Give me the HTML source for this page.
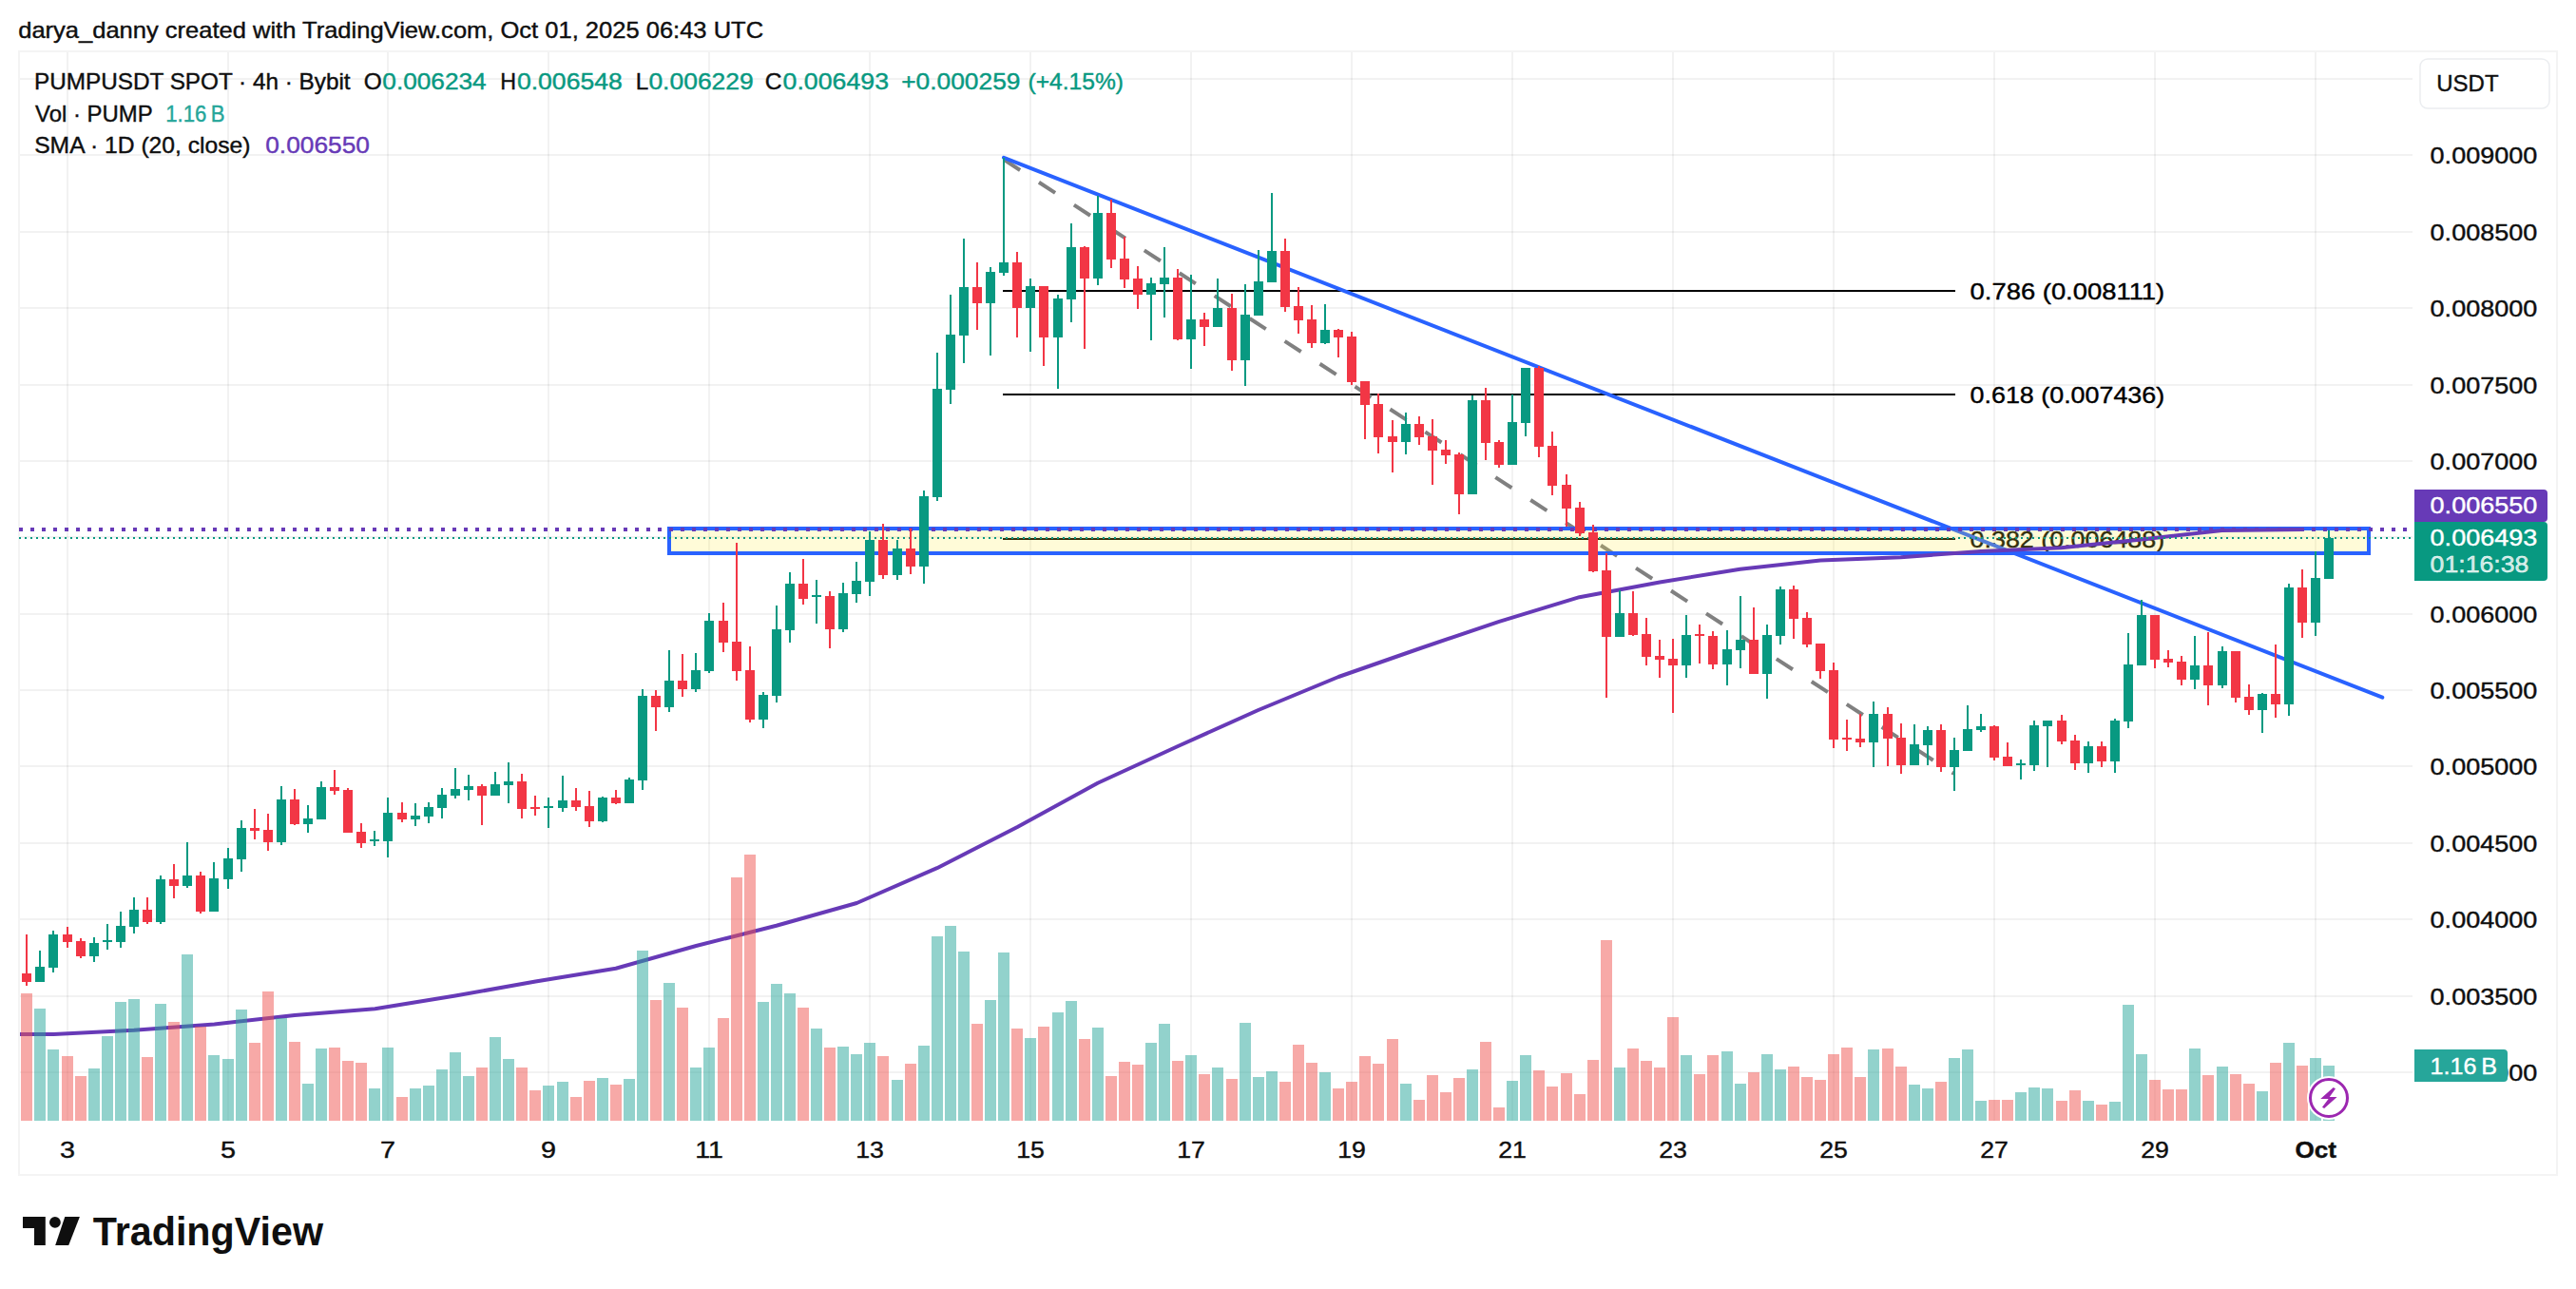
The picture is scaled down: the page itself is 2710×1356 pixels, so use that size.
<!DOCTYPE html><html><head><meta charset="utf-8"><title>PUMPUSDT chart</title>
<style>html,body{margin:0;padding:0;background:#fff;}body{width:2710px;height:1356px;overflow:hidden;}svg{display:block;}text{font-family:"Liberation Sans", Arial, sans-serif;}</style></head><body>
<svg width="2710" height="1356" viewBox="0 0 2710 1356">
<rect width="2710" height="1356" fill="#fff"/>
<text x="19.2" y="39.8" font-size="24" fill="#0f0f0f" stroke="#0f0f0f" stroke-width="0.4" textLength="783.9" lengthAdjust="spacingAndGlyphs" >darya_danny created with TradingView.com, Oct 01, 2025 06:43 UTC</text>
<rect x="20" y="54" width="2670" height="1182" fill="none" stroke="#f4f4f4" stroke-width="2"/>
<g fill="#000" fill-opacity="0.052" shape-rendering="crispEdges">
<rect x="21" y="82" width="2517" height="2"/>
<rect x="21" y="162" width="2517" height="2"/>
<rect x="21" y="243" width="2517" height="2"/>
<rect x="21" y="323" width="2517" height="2"/>
<rect x="21" y="404" width="2517" height="2"/>
<rect x="21" y="484" width="2517" height="2"/>
<rect x="21" y="564" width="2517" height="2"/>
<rect x="21" y="645" width="2517" height="2"/>
<rect x="21" y="725" width="2517" height="2"/>
<rect x="21" y="805" width="2517" height="2"/>
<rect x="21" y="886" width="2517" height="2"/>
<rect x="21" y="966" width="2517" height="2"/>
<rect x="21" y="1047" width="2517" height="2"/>
<rect x="21" y="1127" width="2517" height="2"/>
<rect x="70" y="55" width="2" height="1124"/>
<rect x="239" y="55" width="2" height="1124"/>
<rect x="407" y="55" width="2" height="1124"/>
<rect x="576" y="55" width="2" height="1124"/>
<rect x="745" y="55" width="2" height="1124"/>
<rect x="914" y="55" width="2" height="1124"/>
<rect x="1083" y="55" width="2" height="1124"/>
<rect x="1252" y="55" width="2" height="1124"/>
<rect x="1421" y="55" width="2" height="1124"/>
<rect x="1590" y="55" width="2" height="1124"/>
<rect x="1759" y="55" width="2" height="1124"/>
<rect x="1928" y="55" width="2" height="1124"/>
<rect x="2097" y="55" width="2" height="1124"/>
<rect x="2266" y="55" width="2" height="1124"/>
<rect x="2435" y="55" width="2" height="1124"/>
</g>
<rect x="1055" y="305" width="1002" height="2" fill="#000" shape-rendering="crispEdges"/>
<text x="2072.6" y="314.6" font-size="24" fill="#000" stroke="#000" stroke-width="0.4" textLength="204.6" lengthAdjust="spacingAndGlyphs" >0.786 (0.008111)</text>
<rect x="1055" y="414" width="1002" height="2" fill="#000" shape-rendering="crispEdges"/>
<text x="2072.6" y="423.6" font-size="24" fill="#000" stroke="#000" stroke-width="0.4" textLength="204.6" lengthAdjust="spacingAndGlyphs" >0.618 (0.007436)</text>
<rect x="1055" y="566" width="1002" height="2" fill="#000" shape-rendering="crispEdges"/>
<text x="2072.6" y="575.6" font-size="24" fill="#000" stroke="#000" stroke-width="0.4" textLength="204.6" lengthAdjust="spacingAndGlyphs" >0.382 (0.006488)</text>
<line x1="1056" y1="167.9" x2="2055.5" y2="813.8" stroke="#808080" stroke-width="4" stroke-dasharray="20.4 23.59"/>
<line x1="1056" y1="165.8" x2="2506.3" y2="733.7" stroke="#2962ff" stroke-width="4" stroke-linecap="round"/>
<rect x="704" y="556" width="1788" height="26" fill="rgba(255,235,59,0.2)" stroke="#2962ff" stroke-width="4"/>
<polyline points="21.0,1088.0 56.5,1088.0 141.0,1083.8 225.5,1077.5 310.0,1068.0 394.5,1061.2 479.0,1047.5 563.4,1032.5 647.9,1018.8 732.4,995.0 816.8,973.8 901.3,950.0 985.8,913.2 1070.3,870.0 1154.8,823.8 1239.2,785.0 1323.7,747.0 1408.2,712.0 1492.7,682.5 1577.2,653.8 1661.6,628.2 1746.1,612.5 1830.6,598.8 1915.1,589.5 1999.6,586.2 2084.0,580.0 2168.5,576.2 2253.0,567.5 2337.5,558.0 2422.0,557.0" fill="none" stroke="#673ab7" stroke-width="4" stroke-linejoin="round" stroke-linecap="butt"/>
<line x1="20" y1="557" x2="2538" y2="557" stroke="#673ab7" stroke-width="4" stroke-dasharray="4 8"/>
<line x1="20" y1="566" x2="2538" y2="566" stroke="#089981" stroke-width="2" stroke-dasharray="2 4"/>
<g shape-rendering="crispEdges">
<rect x="22" y="1045" width="12" height="134" fill="#ef5350" fill-opacity="0.5"/>
<rect x="36" y="1061" width="12" height="118" fill="#26a69a" fill-opacity="0.5"/>
<rect x="50" y="1104" width="12" height="75" fill="#26a69a" fill-opacity="0.5"/>
<rect x="65" y="1111" width="12" height="68" fill="#ef5350" fill-opacity="0.5"/>
<rect x="79" y="1132" width="12" height="47" fill="#ef5350" fill-opacity="0.5"/>
<rect x="93" y="1124" width="12" height="55" fill="#26a69a" fill-opacity="0.5"/>
<rect x="107" y="1090" width="12" height="89" fill="#26a69a" fill-opacity="0.5"/>
<rect x="121" y="1054" width="12" height="125" fill="#26a69a" fill-opacity="0.5"/>
<rect x="135" y="1051" width="12" height="128" fill="#26a69a" fill-opacity="0.5"/>
<rect x="149" y="1112" width="12" height="67" fill="#ef5350" fill-opacity="0.5"/>
<rect x="163" y="1056" width="12" height="123" fill="#26a69a" fill-opacity="0.5"/>
<rect x="177" y="1075" width="12" height="104" fill="#ef5350" fill-opacity="0.5"/>
<rect x="191" y="1004" width="12" height="175" fill="#26a69a" fill-opacity="0.5"/>
<rect x="205" y="1080" width="12" height="99" fill="#ef5350" fill-opacity="0.5"/>
<rect x="219" y="1110" width="12" height="69" fill="#26a69a" fill-opacity="0.5"/>
<rect x="234" y="1114" width="12" height="65" fill="#26a69a" fill-opacity="0.5"/>
<rect x="248" y="1062" width="12" height="117" fill="#26a69a" fill-opacity="0.5"/>
<rect x="262" y="1097" width="12" height="82" fill="#ef5350" fill-opacity="0.5"/>
<rect x="276" y="1043" width="12" height="136" fill="#ef5350" fill-opacity="0.5"/>
<rect x="290" y="1071" width="12" height="108" fill="#26a69a" fill-opacity="0.5"/>
<rect x="304" y="1096" width="12" height="83" fill="#ef5350" fill-opacity="0.5"/>
<rect x="318" y="1140" width="12" height="39" fill="#26a69a" fill-opacity="0.5"/>
<rect x="332" y="1103" width="12" height="76" fill="#26a69a" fill-opacity="0.5"/>
<rect x="346" y="1102" width="12" height="77" fill="#ef5350" fill-opacity="0.5"/>
<rect x="360" y="1116" width="12" height="63" fill="#ef5350" fill-opacity="0.5"/>
<rect x="374" y="1118" width="12" height="61" fill="#ef5350" fill-opacity="0.5"/>
<rect x="388" y="1145" width="12" height="34" fill="#26a69a" fill-opacity="0.5"/>
<rect x="402" y="1102" width="12" height="77" fill="#26a69a" fill-opacity="0.5"/>
<rect x="417" y="1154" width="12" height="25" fill="#ef5350" fill-opacity="0.5"/>
<rect x="431" y="1145" width="12" height="34" fill="#26a69a" fill-opacity="0.5"/>
<rect x="445" y="1142" width="12" height="37" fill="#26a69a" fill-opacity="0.5"/>
<rect x="459" y="1125" width="12" height="54" fill="#26a69a" fill-opacity="0.5"/>
<rect x="473" y="1107" width="12" height="72" fill="#26a69a" fill-opacity="0.5"/>
<rect x="487" y="1132" width="12" height="47" fill="#26a69a" fill-opacity="0.5"/>
<rect x="501" y="1123" width="12" height="56" fill="#ef5350" fill-opacity="0.5"/>
<rect x="515" y="1091" width="12" height="88" fill="#26a69a" fill-opacity="0.5"/>
<rect x="529" y="1114" width="12" height="65" fill="#26a69a" fill-opacity="0.5"/>
<rect x="543" y="1123" width="12" height="56" fill="#ef5350" fill-opacity="0.5"/>
<rect x="557" y="1147" width="12" height="32" fill="#ef5350" fill-opacity="0.5"/>
<rect x="571" y="1142" width="12" height="37" fill="#26a69a" fill-opacity="0.5"/>
<rect x="586" y="1138" width="12" height="41" fill="#26a69a" fill-opacity="0.5"/>
<rect x="600" y="1154" width="12" height="25" fill="#ef5350" fill-opacity="0.5"/>
<rect x="614" y="1137" width="12" height="42" fill="#ef5350" fill-opacity="0.5"/>
<rect x="628" y="1134" width="12" height="45" fill="#26a69a" fill-opacity="0.5"/>
<rect x="642" y="1141" width="12" height="38" fill="#ef5350" fill-opacity="0.5"/>
<rect x="656" y="1135" width="12" height="44" fill="#26a69a" fill-opacity="0.5"/>
<rect x="670" y="1000" width="12" height="179" fill="#26a69a" fill-opacity="0.5"/>
<rect x="684" y="1052" width="12" height="127" fill="#ef5350" fill-opacity="0.5"/>
<rect x="698" y="1034" width="12" height="145" fill="#26a69a" fill-opacity="0.5"/>
<rect x="712" y="1060" width="12" height="119" fill="#ef5350" fill-opacity="0.5"/>
<rect x="726" y="1123" width="12" height="56" fill="#26a69a" fill-opacity="0.5"/>
<rect x="740" y="1102" width="12" height="77" fill="#26a69a" fill-opacity="0.5"/>
<rect x="755" y="1071" width="12" height="108" fill="#ef5350" fill-opacity="0.5"/>
<rect x="769" y="923" width="12" height="256" fill="#ef5350" fill-opacity="0.5"/>
<rect x="783" y="899" width="12" height="280" fill="#ef5350" fill-opacity="0.5"/>
<rect x="797" y="1054" width="12" height="125" fill="#26a69a" fill-opacity="0.5"/>
<rect x="811" y="1035" width="12" height="144" fill="#26a69a" fill-opacity="0.5"/>
<rect x="825" y="1045" width="12" height="134" fill="#26a69a" fill-opacity="0.5"/>
<rect x="839" y="1060" width="12" height="119" fill="#ef5350" fill-opacity="0.5"/>
<rect x="853" y="1082" width="12" height="97" fill="#26a69a" fill-opacity="0.5"/>
<rect x="867" y="1102" width="12" height="77" fill="#ef5350" fill-opacity="0.5"/>
<rect x="881" y="1101" width="12" height="78" fill="#26a69a" fill-opacity="0.5"/>
<rect x="895" y="1109" width="12" height="70" fill="#26a69a" fill-opacity="0.5"/>
<rect x="909" y="1097" width="12" height="82" fill="#26a69a" fill-opacity="0.5"/>
<rect x="923" y="1111" width="12" height="68" fill="#ef5350" fill-opacity="0.5"/>
<rect x="938" y="1136" width="12" height="43" fill="#26a69a" fill-opacity="0.5"/>
<rect x="952" y="1119" width="12" height="60" fill="#ef5350" fill-opacity="0.5"/>
<rect x="966" y="1100" width="12" height="79" fill="#26a69a" fill-opacity="0.5"/>
<rect x="980" y="985" width="12" height="194" fill="#26a69a" fill-opacity="0.5"/>
<rect x="994" y="974" width="12" height="205" fill="#26a69a" fill-opacity="0.5"/>
<rect x="1008" y="1001" width="12" height="178" fill="#26a69a" fill-opacity="0.5"/>
<rect x="1022" y="1077" width="12" height="102" fill="#ef5350" fill-opacity="0.5"/>
<rect x="1036" y="1052" width="12" height="127" fill="#26a69a" fill-opacity="0.5"/>
<rect x="1050" y="1002" width="12" height="177" fill="#26a69a" fill-opacity="0.5"/>
<rect x="1064" y="1082" width="12" height="97" fill="#ef5350" fill-opacity="0.5"/>
<rect x="1078" y="1092" width="12" height="87" fill="#26a69a" fill-opacity="0.5"/>
<rect x="1092" y="1080" width="12" height="99" fill="#ef5350" fill-opacity="0.5"/>
<rect x="1107" y="1065" width="12" height="114" fill="#26a69a" fill-opacity="0.5"/>
<rect x="1121" y="1053" width="12" height="126" fill="#26a69a" fill-opacity="0.5"/>
<rect x="1135" y="1093" width="12" height="86" fill="#ef5350" fill-opacity="0.5"/>
<rect x="1149" y="1081" width="12" height="98" fill="#26a69a" fill-opacity="0.5"/>
<rect x="1163" y="1132" width="12" height="47" fill="#ef5350" fill-opacity="0.5"/>
<rect x="1177" y="1117" width="12" height="62" fill="#ef5350" fill-opacity="0.5"/>
<rect x="1191" y="1120" width="12" height="59" fill="#ef5350" fill-opacity="0.5"/>
<rect x="1205" y="1097" width="12" height="82" fill="#26a69a" fill-opacity="0.5"/>
<rect x="1219" y="1077" width="12" height="102" fill="#26a69a" fill-opacity="0.5"/>
<rect x="1233" y="1116" width="12" height="63" fill="#ef5350" fill-opacity="0.5"/>
<rect x="1247" y="1110" width="12" height="69" fill="#26a69a" fill-opacity="0.5"/>
<rect x="1261" y="1130" width="12" height="49" fill="#ef5350" fill-opacity="0.5"/>
<rect x="1275" y="1123" width="12" height="56" fill="#26a69a" fill-opacity="0.5"/>
<rect x="1290" y="1135" width="12" height="44" fill="#ef5350" fill-opacity="0.5"/>
<rect x="1304" y="1076" width="12" height="103" fill="#26a69a" fill-opacity="0.5"/>
<rect x="1318" y="1133" width="12" height="46" fill="#26a69a" fill-opacity="0.5"/>
<rect x="1332" y="1127" width="12" height="52" fill="#26a69a" fill-opacity="0.5"/>
<rect x="1346" y="1138" width="12" height="41" fill="#ef5350" fill-opacity="0.5"/>
<rect x="1360" y="1099" width="12" height="80" fill="#ef5350" fill-opacity="0.5"/>
<rect x="1374" y="1118" width="12" height="61" fill="#ef5350" fill-opacity="0.5"/>
<rect x="1388" y="1128" width="12" height="51" fill="#26a69a" fill-opacity="0.5"/>
<rect x="1402" y="1145" width="12" height="34" fill="#ef5350" fill-opacity="0.5"/>
<rect x="1416" y="1138" width="12" height="41" fill="#ef5350" fill-opacity="0.5"/>
<rect x="1430" y="1111" width="12" height="68" fill="#ef5350" fill-opacity="0.5"/>
<rect x="1444" y="1119" width="12" height="60" fill="#ef5350" fill-opacity="0.5"/>
<rect x="1459" y="1093" width="12" height="86" fill="#ef5350" fill-opacity="0.5"/>
<rect x="1473" y="1140" width="12" height="39" fill="#26a69a" fill-opacity="0.5"/>
<rect x="1487" y="1157" width="12" height="22" fill="#ef5350" fill-opacity="0.5"/>
<rect x="1501" y="1131" width="12" height="48" fill="#ef5350" fill-opacity="0.5"/>
<rect x="1515" y="1149" width="12" height="30" fill="#ef5350" fill-opacity="0.5"/>
<rect x="1529" y="1134" width="12" height="45" fill="#ef5350" fill-opacity="0.5"/>
<rect x="1543" y="1125" width="12" height="54" fill="#26a69a" fill-opacity="0.5"/>
<rect x="1557" y="1096" width="12" height="83" fill="#ef5350" fill-opacity="0.5"/>
<rect x="1571" y="1165" width="12" height="14" fill="#ef5350" fill-opacity="0.5"/>
<rect x="1585" y="1137" width="12" height="42" fill="#26a69a" fill-opacity="0.5"/>
<rect x="1599" y="1110" width="12" height="69" fill="#26a69a" fill-opacity="0.5"/>
<rect x="1613" y="1126" width="12" height="53" fill="#ef5350" fill-opacity="0.5"/>
<rect x="1627" y="1143" width="12" height="36" fill="#ef5350" fill-opacity="0.5"/>
<rect x="1642" y="1129" width="12" height="50" fill="#ef5350" fill-opacity="0.5"/>
<rect x="1656" y="1151" width="12" height="28" fill="#ef5350" fill-opacity="0.5"/>
<rect x="1670" y="1115" width="12" height="64" fill="#ef5350" fill-opacity="0.5"/>
<rect x="1684" y="989" width="12" height="190" fill="#ef5350" fill-opacity="0.5"/>
<rect x="1698" y="1123" width="12" height="56" fill="#26a69a" fill-opacity="0.5"/>
<rect x="1712" y="1103" width="12" height="76" fill="#ef5350" fill-opacity="0.5"/>
<rect x="1726" y="1116" width="12" height="63" fill="#ef5350" fill-opacity="0.5"/>
<rect x="1740" y="1123" width="12" height="56" fill="#ef5350" fill-opacity="0.5"/>
<rect x="1754" y="1070" width="12" height="109" fill="#ef5350" fill-opacity="0.5"/>
<rect x="1768" y="1110" width="12" height="69" fill="#26a69a" fill-opacity="0.5"/>
<rect x="1782" y="1130" width="12" height="49" fill="#ef5350" fill-opacity="0.5"/>
<rect x="1796" y="1110" width="12" height="69" fill="#ef5350" fill-opacity="0.5"/>
<rect x="1811" y="1106" width="12" height="73" fill="#26a69a" fill-opacity="0.5"/>
<rect x="1825" y="1140" width="12" height="39" fill="#26a69a" fill-opacity="0.5"/>
<rect x="1839" y="1128" width="12" height="51" fill="#ef5350" fill-opacity="0.5"/>
<rect x="1853" y="1109" width="12" height="70" fill="#26a69a" fill-opacity="0.5"/>
<rect x="1867" y="1125" width="12" height="54" fill="#26a69a" fill-opacity="0.5"/>
<rect x="1881" y="1122" width="12" height="57" fill="#ef5350" fill-opacity="0.5"/>
<rect x="1895" y="1133" width="12" height="46" fill="#ef5350" fill-opacity="0.5"/>
<rect x="1909" y="1136" width="12" height="43" fill="#ef5350" fill-opacity="0.5"/>
<rect x="1923" y="1109" width="12" height="70" fill="#ef5350" fill-opacity="0.5"/>
<rect x="1937" y="1102" width="12" height="77" fill="#ef5350" fill-opacity="0.5"/>
<rect x="1951" y="1133" width="12" height="46" fill="#ef5350" fill-opacity="0.5"/>
<rect x="1965" y="1104" width="12" height="75" fill="#26a69a" fill-opacity="0.5"/>
<rect x="1980" y="1103" width="12" height="76" fill="#ef5350" fill-opacity="0.5"/>
<rect x="1994" y="1122" width="12" height="57" fill="#ef5350" fill-opacity="0.5"/>
<rect x="2008" y="1141" width="12" height="38" fill="#26a69a" fill-opacity="0.5"/>
<rect x="2022" y="1145" width="12" height="34" fill="#26a69a" fill-opacity="0.5"/>
<rect x="2036" y="1138" width="12" height="41" fill="#ef5350" fill-opacity="0.5"/>
<rect x="2050" y="1113" width="12" height="66" fill="#26a69a" fill-opacity="0.5"/>
<rect x="2064" y="1104" width="12" height="75" fill="#26a69a" fill-opacity="0.5"/>
<rect x="2078" y="1158" width="12" height="21" fill="#26a69a" fill-opacity="0.5"/>
<rect x="2092" y="1157" width="12" height="22" fill="#ef5350" fill-opacity="0.5"/>
<rect x="2106" y="1157" width="12" height="22" fill="#ef5350" fill-opacity="0.5"/>
<rect x="2120" y="1149" width="12" height="30" fill="#26a69a" fill-opacity="0.5"/>
<rect x="2134" y="1144" width="12" height="35" fill="#26a69a" fill-opacity="0.5"/>
<rect x="2148" y="1145" width="12" height="34" fill="#26a69a" fill-opacity="0.5"/>
<rect x="2163" y="1158" width="12" height="21" fill="#ef5350" fill-opacity="0.5"/>
<rect x="2177" y="1147" width="12" height="32" fill="#ef5350" fill-opacity="0.5"/>
<rect x="2191" y="1158" width="12" height="21" fill="#26a69a" fill-opacity="0.5"/>
<rect x="2205" y="1162" width="12" height="17" fill="#ef5350" fill-opacity="0.5"/>
<rect x="2219" y="1159" width="12" height="20" fill="#26a69a" fill-opacity="0.5"/>
<rect x="2233" y="1057" width="12" height="122" fill="#26a69a" fill-opacity="0.5"/>
<rect x="2247" y="1109" width="12" height="70" fill="#26a69a" fill-opacity="0.5"/>
<rect x="2261" y="1136" width="12" height="43" fill="#ef5350" fill-opacity="0.5"/>
<rect x="2275" y="1146" width="12" height="33" fill="#ef5350" fill-opacity="0.5"/>
<rect x="2289" y="1146" width="12" height="33" fill="#ef5350" fill-opacity="0.5"/>
<rect x="2303" y="1103" width="12" height="76" fill="#26a69a" fill-opacity="0.5"/>
<rect x="2317" y="1131" width="12" height="48" fill="#ef5350" fill-opacity="0.5"/>
<rect x="2332" y="1122" width="12" height="57" fill="#26a69a" fill-opacity="0.5"/>
<rect x="2346" y="1130" width="12" height="49" fill="#ef5350" fill-opacity="0.5"/>
<rect x="2360" y="1140" width="12" height="39" fill="#ef5350" fill-opacity="0.5"/>
<rect x="2374" y="1148" width="12" height="31" fill="#26a69a" fill-opacity="0.5"/>
<rect x="2388" y="1118" width="12" height="61" fill="#ef5350" fill-opacity="0.5"/>
<rect x="2402" y="1097" width="12" height="82" fill="#26a69a" fill-opacity="0.5"/>
<rect x="2416" y="1121" width="12" height="58" fill="#ef5350" fill-opacity="0.5"/>
<rect x="2430" y="1113" width="12" height="66" fill="#26a69a" fill-opacity="0.5"/>
<rect x="2444" y="1121" width="12" height="58" fill="#26a69a" fill-opacity="0.5"/>
</g>
<g shape-rendering="crispEdges">
<rect x="27" y="983" width="2" height="54" fill="#f23645"/>
<rect x="23" y="1024" width="10" height="9" fill="#f23645"/>
<rect x="41" y="1000" width="2" height="33" fill="#089981"/>
<rect x="37" y="1017" width="10" height="16" fill="#089981"/>
<rect x="55" y="979" width="2" height="44" fill="#089981"/>
<rect x="51" y="983" width="10" height="35" fill="#089981"/>
<rect x="70" y="975" width="2" height="22" fill="#f23645"/>
<rect x="66" y="983" width="10" height="8" fill="#f23645"/>
<rect x="84" y="987" width="2" height="21" fill="#f23645"/>
<rect x="80" y="990" width="10" height="16" fill="#f23645"/>
<rect x="98" y="986" width="2" height="26" fill="#089981"/>
<rect x="94" y="992" width="10" height="14" fill="#089981"/>
<rect x="112" y="972" width="2" height="27" fill="#089981"/>
<rect x="108" y="989" width="10" height="2" fill="#089981"/>
<rect x="126" y="959" width="2" height="38" fill="#089981"/>
<rect x="122" y="974" width="10" height="17" fill="#089981"/>
<rect x="140" y="944" width="2" height="38" fill="#089981"/>
<rect x="136" y="957" width="10" height="18" fill="#089981"/>
<rect x="154" y="944" width="2" height="28" fill="#f23645"/>
<rect x="150" y="957" width="10" height="13" fill="#f23645"/>
<rect x="168" y="921" width="2" height="51" fill="#089981"/>
<rect x="164" y="925" width="10" height="45" fill="#089981"/>
<rect x="182" y="909" width="2" height="36" fill="#f23645"/>
<rect x="178" y="925" width="10" height="7" fill="#f23645"/>
<rect x="196" y="886" width="2" height="48" fill="#089981"/>
<rect x="192" y="921" width="10" height="11" fill="#089981"/>
<rect x="210" y="917" width="2" height="44" fill="#f23645"/>
<rect x="206" y="921" width="10" height="38" fill="#f23645"/>
<rect x="224" y="907" width="2" height="52" fill="#089981"/>
<rect x="220" y="924" width="10" height="35" fill="#089981"/>
<rect x="239" y="892" width="2" height="43" fill="#089981"/>
<rect x="235" y="903" width="10" height="22" fill="#089981"/>
<rect x="253" y="863" width="2" height="54" fill="#089981"/>
<rect x="249" y="871" width="10" height="33" fill="#089981"/>
<rect x="267" y="851" width="2" height="32" fill="#f23645"/>
<rect x="263" y="871" width="10" height="3" fill="#f23645"/>
<rect x="281" y="856" width="2" height="39" fill="#f23645"/>
<rect x="277" y="873" width="10" height="13" fill="#f23645"/>
<rect x="295" y="827" width="2" height="62" fill="#089981"/>
<rect x="291" y="841" width="10" height="45" fill="#089981"/>
<rect x="309" y="830" width="2" height="38" fill="#f23645"/>
<rect x="305" y="841" width="10" height="26" fill="#f23645"/>
<rect x="323" y="847" width="2" height="29" fill="#089981"/>
<rect x="319" y="861" width="10" height="6" fill="#089981"/>
<rect x="337" y="822" width="2" height="40" fill="#089981"/>
<rect x="333" y="828" width="10" height="34" fill="#089981"/>
<rect x="351" y="810" width="2" height="26" fill="#f23645"/>
<rect x="347" y="828" width="10" height="4" fill="#f23645"/>
<rect x="365" y="829" width="2" height="47" fill="#f23645"/>
<rect x="361" y="831" width="10" height="45" fill="#f23645"/>
<rect x="379" y="866" width="2" height="26" fill="#f23645"/>
<rect x="375" y="875" width="10" height="12" fill="#f23645"/>
<rect x="393" y="874" width="2" height="16" fill="#089981"/>
<rect x="389" y="883" width="10" height="2" fill="#089981"/>
<rect x="407" y="839" width="2" height="63" fill="#089981"/>
<rect x="403" y="855" width="10" height="30" fill="#089981"/>
<rect x="422" y="844" width="2" height="21" fill="#f23645"/>
<rect x="418" y="855" width="10" height="7" fill="#f23645"/>
<rect x="436" y="845" width="2" height="24" fill="#089981"/>
<rect x="432" y="858" width="10" height="4" fill="#089981"/>
<rect x="450" y="844" width="2" height="22" fill="#089981"/>
<rect x="446" y="849" width="10" height="10" fill="#089981"/>
<rect x="464" y="829" width="2" height="32" fill="#089981"/>
<rect x="460" y="836" width="10" height="14" fill="#089981"/>
<rect x="478" y="808" width="2" height="32" fill="#089981"/>
<rect x="474" y="830" width="10" height="7" fill="#089981"/>
<rect x="492" y="815" width="2" height="27" fill="#089981"/>
<rect x="488" y="827" width="10" height="4" fill="#089981"/>
<rect x="506" y="825" width="2" height="43" fill="#f23645"/>
<rect x="502" y="827" width="10" height="10" fill="#f23645"/>
<rect x="520" y="812" width="2" height="25" fill="#089981"/>
<rect x="516" y="825" width="10" height="12" fill="#089981"/>
<rect x="534" y="802" width="2" height="43" fill="#089981"/>
<rect x="530" y="822" width="10" height="4" fill="#089981"/>
<rect x="548" y="814" width="2" height="47" fill="#f23645"/>
<rect x="544" y="822" width="10" height="29" fill="#f23645"/>
<rect x="562" y="837" width="2" height="21" fill="#f23645"/>
<rect x="558" y="849" width="10" height="2" fill="#f23645"/>
<rect x="576" y="839" width="2" height="32" fill="#089981"/>
<rect x="572" y="848" width="10" height="2" fill="#089981"/>
<rect x="591" y="816" width="2" height="38" fill="#089981"/>
<rect x="587" y="842" width="10" height="8" fill="#089981"/>
<rect x="605" y="829" width="2" height="24" fill="#f23645"/>
<rect x="601" y="842" width="10" height="7" fill="#f23645"/>
<rect x="619" y="832" width="2" height="38" fill="#f23645"/>
<rect x="615" y="848" width="10" height="16" fill="#f23645"/>
<rect x="633" y="838" width="2" height="27" fill="#089981"/>
<rect x="629" y="839" width="10" height="25" fill="#089981"/>
<rect x="647" y="831" width="2" height="15" fill="#f23645"/>
<rect x="643" y="839" width="10" height="6" fill="#f23645"/>
<rect x="661" y="818" width="2" height="27" fill="#089981"/>
<rect x="657" y="820" width="10" height="25" fill="#089981"/>
<rect x="675" y="725" width="2" height="106" fill="#089981"/>
<rect x="671" y="732" width="10" height="89" fill="#089981"/>
<rect x="689" y="726" width="2" height="43" fill="#f23645"/>
<rect x="685" y="732" width="10" height="12" fill="#f23645"/>
<rect x="703" y="684" width="2" height="65" fill="#089981"/>
<rect x="699" y="716" width="10" height="28" fill="#089981"/>
<rect x="717" y="688" width="2" height="45" fill="#f23645"/>
<rect x="713" y="716" width="10" height="9" fill="#f23645"/>
<rect x="731" y="687" width="2" height="41" fill="#089981"/>
<rect x="727" y="705" width="10" height="20" fill="#089981"/>
<rect x="745" y="645" width="2" height="63" fill="#089981"/>
<rect x="741" y="653" width="10" height="53" fill="#089981"/>
<rect x="760" y="634" width="2" height="52" fill="#f23645"/>
<rect x="756" y="653" width="10" height="23" fill="#f23645"/>
<rect x="774" y="571" width="2" height="145" fill="#f23645"/>
<rect x="770" y="675" width="10" height="31" fill="#f23645"/>
<rect x="788" y="680" width="2" height="80" fill="#f23645"/>
<rect x="784" y="705" width="10" height="52" fill="#f23645"/>
<rect x="802" y="728" width="2" height="38" fill="#089981"/>
<rect x="798" y="731" width="10" height="26" fill="#089981"/>
<rect x="816" y="637" width="2" height="102" fill="#089981"/>
<rect x="812" y="662" width="10" height="70" fill="#089981"/>
<rect x="830" y="602" width="2" height="74" fill="#089981"/>
<rect x="826" y="614" width="10" height="49" fill="#089981"/>
<rect x="844" y="588" width="2" height="48" fill="#f23645"/>
<rect x="840" y="614" width="10" height="16" fill="#f23645"/>
<rect x="858" y="610" width="2" height="46" fill="#089981"/>
<rect x="854" y="626" width="10" height="2" fill="#089981"/>
<rect x="872" y="622" width="2" height="60" fill="#f23645"/>
<rect x="868" y="627" width="10" height="35" fill="#f23645"/>
<rect x="886" y="613" width="2" height="52" fill="#089981"/>
<rect x="882" y="624" width="10" height="38" fill="#089981"/>
<rect x="900" y="591" width="2" height="43" fill="#089981"/>
<rect x="896" y="611" width="10" height="14" fill="#089981"/>
<rect x="914" y="559" width="2" height="68" fill="#089981"/>
<rect x="910" y="568" width="10" height="44" fill="#089981"/>
<rect x="928" y="551" width="2" height="58" fill="#f23645"/>
<rect x="924" y="568" width="10" height="37" fill="#f23645"/>
<rect x="943" y="568" width="2" height="42" fill="#089981"/>
<rect x="939" y="577" width="10" height="28" fill="#089981"/>
<rect x="957" y="556" width="2" height="48" fill="#f23645"/>
<rect x="953" y="577" width="10" height="19" fill="#f23645"/>
<rect x="971" y="516" width="2" height="98" fill="#089981"/>
<rect x="967" y="522" width="10" height="74" fill="#089981"/>
<rect x="985" y="371" width="2" height="156" fill="#089981"/>
<rect x="981" y="409" width="10" height="114" fill="#089981"/>
<rect x="999" y="310" width="2" height="115" fill="#089981"/>
<rect x="995" y="352" width="10" height="58" fill="#089981"/>
<rect x="1013" y="251" width="2" height="131" fill="#089981"/>
<rect x="1009" y="302" width="10" height="51" fill="#089981"/>
<rect x="1027" y="276" width="2" height="71" fill="#f23645"/>
<rect x="1023" y="302" width="10" height="17" fill="#f23645"/>
<rect x="1041" y="281" width="2" height="93" fill="#089981"/>
<rect x="1037" y="286" width="10" height="33" fill="#089981"/>
<rect x="1055" y="166" width="2" height="124" fill="#089981"/>
<rect x="1051" y="276" width="10" height="11" fill="#089981"/>
<rect x="1069" y="265" width="2" height="90" fill="#f23645"/>
<rect x="1065" y="276" width="10" height="48" fill="#f23645"/>
<rect x="1083" y="293" width="2" height="77" fill="#089981"/>
<rect x="1079" y="301" width="10" height="23" fill="#089981"/>
<rect x="1097" y="301" width="2" height="84" fill="#f23645"/>
<rect x="1093" y="301" width="10" height="54" fill="#f23645"/>
<rect x="1112" y="310" width="2" height="99" fill="#089981"/>
<rect x="1108" y="314" width="10" height="41" fill="#089981"/>
<rect x="1126" y="235" width="2" height="104" fill="#089981"/>
<rect x="1122" y="260" width="10" height="55" fill="#089981"/>
<rect x="1140" y="259" width="2" height="108" fill="#f23645"/>
<rect x="1136" y="260" width="10" height="33" fill="#f23645"/>
<rect x="1154" y="206" width="2" height="94" fill="#089981"/>
<rect x="1150" y="224" width="10" height="69" fill="#089981"/>
<rect x="1168" y="210" width="2" height="72" fill="#f23645"/>
<rect x="1164" y="224" width="10" height="49" fill="#f23645"/>
<rect x="1182" y="249" width="2" height="54" fill="#f23645"/>
<rect x="1178" y="272" width="10" height="22" fill="#f23645"/>
<rect x="1196" y="280" width="2" height="45" fill="#f23645"/>
<rect x="1192" y="293" width="10" height="17" fill="#f23645"/>
<rect x="1210" y="292" width="2" height="66" fill="#089981"/>
<rect x="1206" y="298" width="10" height="12" fill="#089981"/>
<rect x="1224" y="260" width="2" height="74" fill="#089981"/>
<rect x="1220" y="292" width="10" height="7" fill="#089981"/>
<rect x="1238" y="283" width="2" height="75" fill="#f23645"/>
<rect x="1234" y="292" width="10" height="65" fill="#f23645"/>
<rect x="1252" y="289" width="2" height="99" fill="#089981"/>
<rect x="1248" y="336" width="10" height="21" fill="#089981"/>
<rect x="1266" y="329" width="2" height="35" fill="#f23645"/>
<rect x="1262" y="336" width="10" height="8" fill="#f23645"/>
<rect x="1280" y="293" width="2" height="51" fill="#089981"/>
<rect x="1276" y="324" width="10" height="20" fill="#089981"/>
<rect x="1295" y="309" width="2" height="81" fill="#f23645"/>
<rect x="1291" y="324" width="10" height="55" fill="#f23645"/>
<rect x="1309" y="299" width="2" height="107" fill="#089981"/>
<rect x="1305" y="331" width="10" height="48" fill="#089981"/>
<rect x="1323" y="263" width="2" height="69" fill="#089981"/>
<rect x="1319" y="296" width="10" height="36" fill="#089981"/>
<rect x="1337" y="203" width="2" height="94" fill="#089981"/>
<rect x="1333" y="264" width="10" height="33" fill="#089981"/>
<rect x="1351" y="251" width="2" height="77" fill="#f23645"/>
<rect x="1347" y="264" width="10" height="59" fill="#f23645"/>
<rect x="1365" y="302" width="2" height="49" fill="#f23645"/>
<rect x="1361" y="322" width="10" height="15" fill="#f23645"/>
<rect x="1379" y="321" width="2" height="45" fill="#f23645"/>
<rect x="1375" y="336" width="10" height="25" fill="#f23645"/>
<rect x="1393" y="320" width="2" height="42" fill="#089981"/>
<rect x="1389" y="347" width="10" height="14" fill="#089981"/>
<rect x="1407" y="346" width="2" height="30" fill="#f23645"/>
<rect x="1403" y="347" width="10" height="8" fill="#f23645"/>
<rect x="1421" y="349" width="2" height="56" fill="#f23645"/>
<rect x="1417" y="354" width="10" height="48" fill="#f23645"/>
<rect x="1435" y="401" width="2" height="61" fill="#f23645"/>
<rect x="1431" y="401" width="10" height="25" fill="#f23645"/>
<rect x="1449" y="414" width="2" height="63" fill="#f23645"/>
<rect x="1445" y="425" width="10" height="35" fill="#f23645"/>
<rect x="1464" y="442" width="2" height="55" fill="#f23645"/>
<rect x="1460" y="459" width="10" height="6" fill="#f23645"/>
<rect x="1478" y="434" width="2" height="44" fill="#089981"/>
<rect x="1474" y="446" width="10" height="19" fill="#089981"/>
<rect x="1492" y="438" width="2" height="30" fill="#f23645"/>
<rect x="1488" y="446" width="10" height="14" fill="#f23645"/>
<rect x="1506" y="441" width="2" height="69" fill="#f23645"/>
<rect x="1502" y="459" width="10" height="15" fill="#f23645"/>
<rect x="1520" y="463" width="2" height="25" fill="#f23645"/>
<rect x="1516" y="473" width="10" height="6" fill="#f23645"/>
<rect x="1534" y="476" width="2" height="65" fill="#f23645"/>
<rect x="1530" y="478" width="10" height="42" fill="#f23645"/>
<rect x="1548" y="416" width="2" height="104" fill="#089981"/>
<rect x="1544" y="421" width="10" height="99" fill="#089981"/>
<rect x="1562" y="408" width="2" height="76" fill="#f23645"/>
<rect x="1558" y="421" width="10" height="45" fill="#f23645"/>
<rect x="1576" y="463" width="2" height="29" fill="#f23645"/>
<rect x="1572" y="465" width="10" height="24" fill="#f23645"/>
<rect x="1590" y="415" width="2" height="74" fill="#089981"/>
<rect x="1586" y="444" width="10" height="45" fill="#089981"/>
<rect x="1604" y="387" width="2" height="72" fill="#089981"/>
<rect x="1600" y="387" width="10" height="58" fill="#089981"/>
<rect x="1618" y="385" width="2" height="96" fill="#f23645"/>
<rect x="1614" y="387" width="10" height="83" fill="#f23645"/>
<rect x="1632" y="454" width="2" height="67" fill="#f23645"/>
<rect x="1628" y="469" width="10" height="42" fill="#f23645"/>
<rect x="1647" y="499" width="2" height="55" fill="#f23645"/>
<rect x="1643" y="510" width="10" height="25" fill="#f23645"/>
<rect x="1661" y="528" width="2" height="36" fill="#f23645"/>
<rect x="1657" y="534" width="10" height="27" fill="#f23645"/>
<rect x="1675" y="552" width="2" height="50" fill="#f23645"/>
<rect x="1671" y="560" width="10" height="41" fill="#f23645"/>
<rect x="1689" y="582" width="2" height="152" fill="#f23645"/>
<rect x="1685" y="600" width="10" height="70" fill="#f23645"/>
<rect x="1703" y="621" width="2" height="49" fill="#089981"/>
<rect x="1699" y="645" width="10" height="25" fill="#089981"/>
<rect x="1717" y="622" width="2" height="47" fill="#f23645"/>
<rect x="1713" y="645" width="10" height="23" fill="#f23645"/>
<rect x="1731" y="650" width="2" height="50" fill="#f23645"/>
<rect x="1727" y="667" width="10" height="24" fill="#f23645"/>
<rect x="1745" y="673" width="2" height="40" fill="#f23645"/>
<rect x="1741" y="690" width="10" height="4" fill="#f23645"/>
<rect x="1759" y="672" width="2" height="78" fill="#f23645"/>
<rect x="1755" y="693" width="10" height="7" fill="#f23645"/>
<rect x="1773" y="647" width="2" height="66" fill="#089981"/>
<rect x="1769" y="668" width="10" height="32" fill="#089981"/>
<rect x="1787" y="657" width="2" height="41" fill="#f23645"/>
<rect x="1783" y="667" width="10" height="2" fill="#f23645"/>
<rect x="1801" y="664" width="2" height="40" fill="#f23645"/>
<rect x="1797" y="669" width="10" height="30" fill="#f23645"/>
<rect x="1816" y="663" width="2" height="58" fill="#089981"/>
<rect x="1812" y="683" width="10" height="16" fill="#089981"/>
<rect x="1830" y="627" width="2" height="76" fill="#089981"/>
<rect x="1826" y="673" width="10" height="11" fill="#089981"/>
<rect x="1844" y="639" width="2" height="70" fill="#f23645"/>
<rect x="1840" y="673" width="10" height="36" fill="#f23645"/>
<rect x="1858" y="657" width="2" height="78" fill="#089981"/>
<rect x="1854" y="668" width="10" height="41" fill="#089981"/>
<rect x="1872" y="617" width="2" height="61" fill="#089981"/>
<rect x="1868" y="620" width="10" height="49" fill="#089981"/>
<rect x="1886" y="616" width="2" height="56" fill="#f23645"/>
<rect x="1882" y="620" width="10" height="31" fill="#f23645"/>
<rect x="1900" y="644" width="2" height="37" fill="#f23645"/>
<rect x="1896" y="650" width="10" height="28" fill="#f23645"/>
<rect x="1914" y="677" width="2" height="37" fill="#f23645"/>
<rect x="1910" y="677" width="10" height="29" fill="#f23645"/>
<rect x="1928" y="697" width="2" height="90" fill="#f23645"/>
<rect x="1924" y="705" width="10" height="73" fill="#f23645"/>
<rect x="1942" y="757" width="2" height="33" fill="#f23645"/>
<rect x="1938" y="776" width="10" height="2" fill="#f23645"/>
<rect x="1956" y="751" width="2" height="35" fill="#f23645"/>
<rect x="1952" y="777" width="10" height="4" fill="#f23645"/>
<rect x="1970" y="738" width="2" height="69" fill="#089981"/>
<rect x="1966" y="751" width="10" height="30" fill="#089981"/>
<rect x="1985" y="744" width="2" height="62" fill="#f23645"/>
<rect x="1981" y="751" width="10" height="26" fill="#f23645"/>
<rect x="1999" y="761" width="2" height="53" fill="#f23645"/>
<rect x="1995" y="776" width="10" height="29" fill="#f23645"/>
<rect x="2013" y="762" width="2" height="43" fill="#089981"/>
<rect x="2009" y="783" width="10" height="22" fill="#089981"/>
<rect x="2027" y="764" width="2" height="41" fill="#089981"/>
<rect x="2023" y="768" width="10" height="16" fill="#089981"/>
<rect x="2041" y="762" width="2" height="50" fill="#f23645"/>
<rect x="2037" y="768" width="10" height="39" fill="#f23645"/>
<rect x="2055" y="776" width="2" height="56" fill="#089981"/>
<rect x="2051" y="789" width="10" height="18" fill="#089981"/>
<rect x="2069" y="742" width="2" height="48" fill="#089981"/>
<rect x="2065" y="767" width="10" height="23" fill="#089981"/>
<rect x="2083" y="751" width="2" height="19" fill="#089981"/>
<rect x="2079" y="764" width="10" height="4" fill="#089981"/>
<rect x="2097" y="763" width="2" height="37" fill="#f23645"/>
<rect x="2093" y="764" width="10" height="33" fill="#f23645"/>
<rect x="2111" y="781" width="2" height="25" fill="#f23645"/>
<rect x="2107" y="796" width="10" height="10" fill="#f23645"/>
<rect x="2125" y="799" width="2" height="21" fill="#089981"/>
<rect x="2121" y="803" width="10" height="2" fill="#089981"/>
<rect x="2139" y="758" width="2" height="53" fill="#089981"/>
<rect x="2135" y="763" width="10" height="42" fill="#089981"/>
<rect x="2153" y="758" width="2" height="49" fill="#089981"/>
<rect x="2149" y="758" width="10" height="6" fill="#089981"/>
<rect x="2168" y="752" width="2" height="31" fill="#f23645"/>
<rect x="2164" y="758" width="10" height="22" fill="#f23645"/>
<rect x="2182" y="773" width="2" height="37" fill="#f23645"/>
<rect x="2178" y="779" width="10" height="24" fill="#f23645"/>
<rect x="2196" y="780" width="2" height="33" fill="#089981"/>
<rect x="2192" y="785" width="10" height="18" fill="#089981"/>
<rect x="2210" y="780" width="2" height="27" fill="#f23645"/>
<rect x="2206" y="785" width="10" height="16" fill="#f23645"/>
<rect x="2224" y="756" width="2" height="57" fill="#089981"/>
<rect x="2220" y="758" width="10" height="43" fill="#089981"/>
<rect x="2238" y="666" width="2" height="100" fill="#089981"/>
<rect x="2234" y="699" width="10" height="60" fill="#089981"/>
<rect x="2252" y="631" width="2" height="69" fill="#089981"/>
<rect x="2248" y="647" width="10" height="53" fill="#089981"/>
<rect x="2266" y="647" width="2" height="56" fill="#f23645"/>
<rect x="2262" y="647" width="10" height="47" fill="#f23645"/>
<rect x="2280" y="684" width="2" height="18" fill="#f23645"/>
<rect x="2276" y="693" width="10" height="4" fill="#f23645"/>
<rect x="2294" y="690" width="2" height="31" fill="#f23645"/>
<rect x="2290" y="696" width="10" height="19" fill="#f23645"/>
<rect x="2308" y="669" width="2" height="56" fill="#089981"/>
<rect x="2304" y="700" width="10" height="15" fill="#089981"/>
<rect x="2322" y="665" width="2" height="77" fill="#f23645"/>
<rect x="2318" y="700" width="10" height="21" fill="#f23645"/>
<rect x="2337" y="680" width="2" height="44" fill="#089981"/>
<rect x="2333" y="685" width="10" height="36" fill="#089981"/>
<rect x="2351" y="685" width="2" height="54" fill="#f23645"/>
<rect x="2347" y="685" width="10" height="49" fill="#f23645"/>
<rect x="2365" y="720" width="2" height="32" fill="#f23645"/>
<rect x="2361" y="733" width="10" height="14" fill="#f23645"/>
<rect x="2379" y="729" width="2" height="42" fill="#089981"/>
<rect x="2375" y="730" width="10" height="17" fill="#089981"/>
<rect x="2393" y="678" width="2" height="77" fill="#f23645"/>
<rect x="2389" y="730" width="10" height="11" fill="#f23645"/>
<rect x="2407" y="614" width="2" height="139" fill="#089981"/>
<rect x="2403" y="618" width="10" height="123" fill="#089981"/>
<rect x="2421" y="599" width="2" height="72" fill="#f23645"/>
<rect x="2417" y="618" width="10" height="37" fill="#f23645"/>
<rect x="2435" y="580" width="2" height="89" fill="#089981"/>
<rect x="2431" y="608" width="10" height="47" fill="#089981"/>
<rect x="2449" y="558" width="2" height="51" fill="#089981"/>
<rect x="2445" y="566" width="10" height="43" fill="#089981"/>
</g>
<text x="36.0" y="93.9" font-size="24" fill="#0f0f0f" stroke="#0f0f0f" stroke-width="0.4" textLength="332.6" lengthAdjust="spacingAndGlyphs" >PUMPUSDT SPOT · 4h · Bybit</text>
<text x="382.8" y="93.9" font-size="24" fill="#0f0f0f" stroke="#0f0f0f" stroke-width="0.4" textLength="19.0" lengthAdjust="spacingAndGlyphs" >O</text>
<text x="402.3" y="93.9" font-size="24" fill="#089981" stroke="#089981" stroke-width="0.4" textLength="109.4" lengthAdjust="spacingAndGlyphs" >0.006234</text>
<text x="526.2" y="93.9" font-size="24" fill="#0f0f0f" stroke="#0f0f0f" stroke-width="0.4" textLength="16.8" lengthAdjust="spacingAndGlyphs" >H</text>
<text x="543.9" y="93.9" font-size="24" fill="#089981" stroke="#089981" stroke-width="0.4" textLength="110.9" lengthAdjust="spacingAndGlyphs" >0.006548</text>
<text x="668.8" y="93.9" font-size="24" fill="#0f0f0f" stroke="#0f0f0f" stroke-width="0.4" textLength="13.5" lengthAdjust="spacingAndGlyphs" >L</text>
<text x="682.4" y="93.9" font-size="24" fill="#089981" stroke="#089981" stroke-width="0.4" textLength="110.4" lengthAdjust="spacingAndGlyphs" >0.006229</text>
<text x="804.8" y="93.9" font-size="24" fill="#0f0f0f" stroke="#0f0f0f" stroke-width="0.4" textLength="17.8" lengthAdjust="spacingAndGlyphs" >C</text>
<text x="823.6" y="93.9" font-size="24" fill="#089981" stroke="#089981" stroke-width="0.4" textLength="111.4" lengthAdjust="spacingAndGlyphs" >0.006493</text>
<text x="948.2" y="93.9" font-size="24" fill="#089981" stroke="#089981" stroke-width="0.4" textLength="125.3" lengthAdjust="spacingAndGlyphs" >+0.000259</text>
<text x="1081.5" y="93.9" font-size="24" fill="#089981" stroke="#089981" stroke-width="0.4" textLength="100.5" lengthAdjust="spacingAndGlyphs" >(+4.15%)</text>
<text x="37.0" y="128.3" font-size="24" fill="#0f0f0f" stroke="#0f0f0f" stroke-width="0.4" textLength="123.6" lengthAdjust="spacingAndGlyphs" >Vol · PUMP</text>
<text x="174.3" y="128.3" font-size="24" fill="#26a69a" stroke="#26a69a" stroke-width="0.4" textLength="62.3" lengthAdjust="spacingAndGlyphs" >1.16&#8201;B</text>
<text x="36.2" y="161.4" font-size="24" fill="#0f0f0f" stroke="#0f0f0f" stroke-width="0.4" textLength="227.2" lengthAdjust="spacingAndGlyphs" >SMA · 1D (20, close)</text>
<text x="279.2" y="161.4" font-size="24" fill="#673ab7" stroke="#673ab7" stroke-width="0.4" textLength="109.8" lengthAdjust="spacingAndGlyphs" >0.006550</text>
<text x="2556.6" y="172.3" font-size="24.3" fill="#0f0f0f" stroke="#0f0f0f" stroke-width="0.4" textLength="112.7" lengthAdjust="spacingAndGlyphs" >0.009000</text>
<text x="2556.6" y="252.7" font-size="24.3" fill="#0f0f0f" stroke="#0f0f0f" stroke-width="0.4" textLength="112.7" lengthAdjust="spacingAndGlyphs" >0.008500</text>
<text x="2556.6" y="333.1" font-size="24.3" fill="#0f0f0f" stroke="#0f0f0f" stroke-width="0.4" textLength="112.7" lengthAdjust="spacingAndGlyphs" >0.008000</text>
<text x="2556.6" y="413.5" font-size="24.3" fill="#0f0f0f" stroke="#0f0f0f" stroke-width="0.4" textLength="112.7" lengthAdjust="spacingAndGlyphs" >0.007500</text>
<text x="2556.6" y="493.9" font-size="24.3" fill="#0f0f0f" stroke="#0f0f0f" stroke-width="0.4" textLength="112.7" lengthAdjust="spacingAndGlyphs" >0.007000</text>
<text x="2556.6" y="574.3" font-size="24.3" fill="#0f0f0f" stroke="#0f0f0f" stroke-width="0.4" textLength="112.7" lengthAdjust="spacingAndGlyphs" >0.006500</text>
<text x="2556.6" y="654.7" font-size="24.3" fill="#0f0f0f" stroke="#0f0f0f" stroke-width="0.4" textLength="112.7" lengthAdjust="spacingAndGlyphs" >0.006000</text>
<text x="2556.6" y="735.0" font-size="24.3" fill="#0f0f0f" stroke="#0f0f0f" stroke-width="0.4" textLength="112.7" lengthAdjust="spacingAndGlyphs" >0.005500</text>
<text x="2556.6" y="815.4" font-size="24.3" fill="#0f0f0f" stroke="#0f0f0f" stroke-width="0.4" textLength="112.7" lengthAdjust="spacingAndGlyphs" >0.005000</text>
<text x="2556.6" y="895.8" font-size="24.3" fill="#0f0f0f" stroke="#0f0f0f" stroke-width="0.4" textLength="112.7" lengthAdjust="spacingAndGlyphs" >0.004500</text>
<text x="2556.6" y="976.2" font-size="24.3" fill="#0f0f0f" stroke="#0f0f0f" stroke-width="0.4" textLength="112.7" lengthAdjust="spacingAndGlyphs" >0.004000</text>
<text x="2556.6" y="1056.6" font-size="24.3" fill="#0f0f0f" stroke="#0f0f0f" stroke-width="0.4" textLength="112.7" lengthAdjust="spacingAndGlyphs" >0.003500</text>
<text x="2556.6" y="1137.0" font-size="24.3" fill="#0f0f0f" stroke="#0f0f0f" stroke-width="0.4" textLength="112.7" lengthAdjust="spacingAndGlyphs" >0.003000</text>
<rect x="2546" y="62" width="136" height="52" rx="8" ry="8" fill="#fff" stroke="#ebedf0" stroke-width="1.5"/>
<text x="2563.3" y="96.1" font-size="24" fill="#0f0f0f" stroke="#0f0f0f" stroke-width="0.4" textLength="65.3" lengthAdjust="spacingAndGlyphs" >USDT</text>
<path d="M2540 515H2676a4 4 0 0 1 4 4V545a4 4 0 0 1-4 4H2540Z" fill="#673ab7"/>
<text x="2556.6" y="540.3" font-size="24" fill="#fff" stroke="#fff" stroke-width="0.4" textLength="112.7" lengthAdjust="spacingAndGlyphs" >0.006550</text>
<path d="M2540 549H2676a4 4 0 0 1 4 4V607a4 4 0 0 1-4 4H2540Z" fill="#089981"/>
<text x="2556.6" y="574.4" font-size="24" fill="#fff" stroke="#fff" stroke-width="0.4" textLength="112.7" lengthAdjust="spacingAndGlyphs" >0.006493</text>
<text x="2556.6" y="602.2" font-size="24" fill="#fff" stroke="#fff" stroke-width="0.4" textLength="103.8" lengthAdjust="spacingAndGlyphs" fill-opacity="0.8">01:16:38</text>
<path d="M2540 1104H2634a4 4 0 0 1 4 4V1134a4 4 0 0 1-4 4H2540Z" fill="#26a69a"/>
<text x="2556.5" y="1129.5" font-size="24" fill="#fff" stroke="#fff" stroke-width="0.4" textLength="70.6" lengthAdjust="spacingAndGlyphs" >1.16&#8201;B</text>
<text x="71.0" y="1218.0" font-size="24" fill="#0f0f0f" stroke="#0f0f0f" stroke-width="0.4" textLength="16.0" lengthAdjust="spacingAndGlyphs" text-anchor="middle" >3</text>
<text x="240.0" y="1218.0" font-size="24" fill="#0f0f0f" stroke="#0f0f0f" stroke-width="0.4" textLength="16.0" lengthAdjust="spacingAndGlyphs" text-anchor="middle" >5</text>
<text x="408.0" y="1218.0" font-size="24" fill="#0f0f0f" stroke="#0f0f0f" stroke-width="0.4" textLength="16.0" lengthAdjust="spacingAndGlyphs" text-anchor="middle" >7</text>
<text x="577.0" y="1218.0" font-size="24" fill="#0f0f0f" stroke="#0f0f0f" stroke-width="0.4" textLength="16.0" lengthAdjust="spacingAndGlyphs" text-anchor="middle" >9</text>
<text x="746.0" y="1218.0" font-size="24" fill="#0f0f0f" stroke="#0f0f0f" stroke-width="0.4" textLength="29.6" lengthAdjust="spacingAndGlyphs" text-anchor="middle" >11</text>
<text x="915.0" y="1218.0" font-size="24" fill="#0f0f0f" stroke="#0f0f0f" stroke-width="0.4" textLength="29.6" lengthAdjust="spacingAndGlyphs" text-anchor="middle" >13</text>
<text x="1084.0" y="1218.0" font-size="24" fill="#0f0f0f" stroke="#0f0f0f" stroke-width="0.4" textLength="29.6" lengthAdjust="spacingAndGlyphs" text-anchor="middle" >15</text>
<text x="1253.0" y="1218.0" font-size="24" fill="#0f0f0f" stroke="#0f0f0f" stroke-width="0.4" textLength="29.6" lengthAdjust="spacingAndGlyphs" text-anchor="middle" >17</text>
<text x="1422.0" y="1218.0" font-size="24" fill="#0f0f0f" stroke="#0f0f0f" stroke-width="0.4" textLength="29.6" lengthAdjust="spacingAndGlyphs" text-anchor="middle" >19</text>
<text x="1591.0" y="1218.0" font-size="24" fill="#0f0f0f" stroke="#0f0f0f" stroke-width="0.4" textLength="29.6" lengthAdjust="spacingAndGlyphs" text-anchor="middle" >21</text>
<text x="1760.0" y="1218.0" font-size="24" fill="#0f0f0f" stroke="#0f0f0f" stroke-width="0.4" textLength="29.6" lengthAdjust="spacingAndGlyphs" text-anchor="middle" >23</text>
<text x="1929.0" y="1218.0" font-size="24" fill="#0f0f0f" stroke="#0f0f0f" stroke-width="0.4" textLength="29.6" lengthAdjust="spacingAndGlyphs" text-anchor="middle" >25</text>
<text x="2098.0" y="1218.0" font-size="24" fill="#0f0f0f" stroke="#0f0f0f" stroke-width="0.4" textLength="29.6" lengthAdjust="spacingAndGlyphs" text-anchor="middle" >27</text>
<text x="2267.0" y="1218.0" font-size="24" fill="#0f0f0f" stroke="#0f0f0f" stroke-width="0.4" textLength="29.6" lengthAdjust="spacingAndGlyphs" text-anchor="middle" >29</text>
<text x="2436.2" y="1218.2" font-size="24" fill="#0f0f0f" stroke="#0f0f0f" stroke-width="0.4" textLength="43.5" lengthAdjust="spacingAndGlyphs" font-weight="bold" text-anchor="middle" >Oct</text>
<circle cx="2450" cy="1155" r="23" fill="#fff"/>
<circle cx="2450" cy="1155" r="19.5" fill="#fff" stroke="#9c27b0" stroke-width="3"/>
<path d="M2454.7 1144L2457 1145.3L2450.7 1154H2458.6L2445.1 1166.1L2443 1164.7L2449.6 1156H2441.2Z" fill="#9c27b0"/>
<g fill="#0f0f0f"><path d="M24 1280H47.8V1310H36V1292H24Z"/><circle cx="57.9" cy="1285.9" r="5.9"/><path d="M68.3 1280H83.9L72.2 1310H58.2Z"/></g>
<text x="97.8" y="1310.0" font-size="43" fill="#0f0f0f" textLength="242.2" lengthAdjust="spacingAndGlyphs" font-weight="bold" >TradingView</text>
</svg></body></html>
